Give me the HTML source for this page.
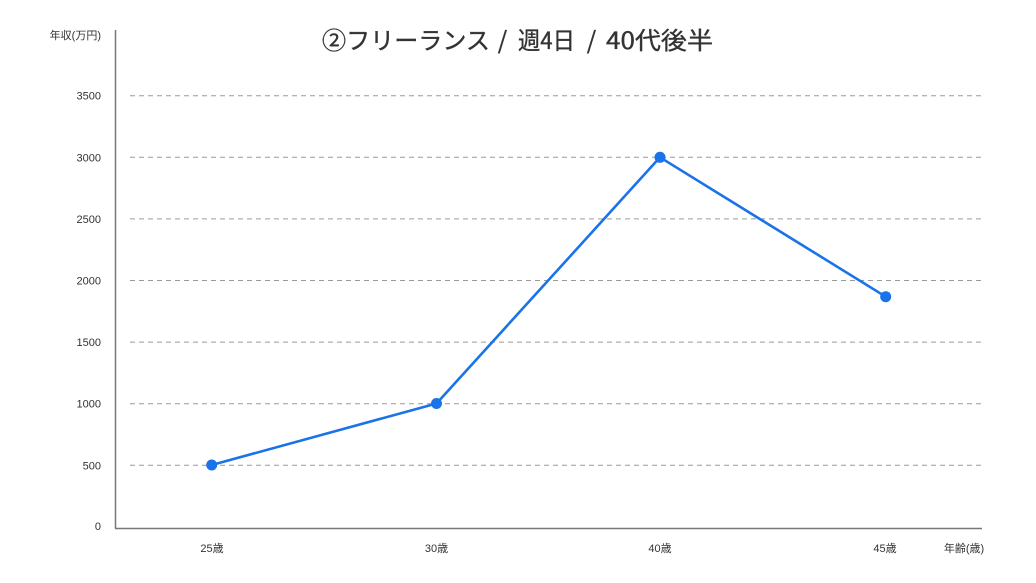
<!DOCTYPE html>
<html>
<head>
<meta charset="utf-8">
<style>
html,body{margin:0;padding:0;background:#fff;}
svg{display:block;}
text{font-family:"Liberation Sans","Noto Sans CJK JP",sans-serif;}
.title{font-family:"Noto Sans CJK JP","Liberation Sans",sans-serif;font-size:24px;font-weight:400;fill:#333;stroke:#333;stroke-width:0.35px;}
</style>
</head>
<body>
<svg width="1036" height="583" viewBox="0 0 1036 583" xmlns="http://www.w3.org/2000/svg">
<rect width="1036" height="583" fill="#fff"/>
<!-- title -->
<text class="title" x="322" y="49" textLength="168" lengthAdjust="spacingAndGlyphs">②フリーランス</text>
<text class="title" x="502.5" y="49" text-anchor="middle">/</text>
<text class="title" x="518" y="49" textLength="57" lengthAdjust="spacingAndGlyphs">週4日</text>
<text class="title" x="591.5" y="49" text-anchor="middle">/</text>
<text class="title" x="606" y="49" textLength="107" lengthAdjust="spacingAndGlyphs">40代後半</text>
<!-- gridlines -->
<g stroke="#9a9a9a" stroke-width="1" stroke-dasharray="5,4">
<line x1="130" y1="95.7" x2="982" y2="95.7"/>
<line x1="130" y1="157.3" x2="982" y2="157.3"/>
<line x1="130" y1="218.9" x2="982" y2="218.9"/>
<line x1="130" y1="280.5" x2="982" y2="280.5"/>
<line x1="130" y1="342.1" x2="982" y2="342.1"/>
<line x1="130" y1="403.7" x2="982" y2="403.7"/>
<line x1="130" y1="465.3" x2="982" y2="465.3"/>
</g>
<!-- axes -->
<line x1="115.5" y1="30" x2="115.5" y2="528.5" stroke="#777" stroke-width="1.5"/>
<line x1="115" y1="528.5" x2="982" y2="528.5" stroke="#777" stroke-width="1.5"/>
<!-- y labels -->
<g font-size="11" fill="#333" text-anchor="end">
<text x="101" y="39">年収(万円)</text>
<text x="101" y="99.7">3500</text>
<text x="101" y="161.3">3000</text>
<text x="101" y="222.9">2500</text>
<text x="101" y="284.5">2000</text>
<text x="101" y="346.1">1500</text>
<text x="101" y="407.7">1000</text>
<text x="101" y="469.3">500</text>
<text x="101" y="530">0</text>
</g>
<!-- x labels -->
<g font-size="11" fill="#333" text-anchor="middle">
<text x="212" y="552">25歳</text>
<text x="436.5" y="552">30歳</text>
<text x="660" y="552">40歳</text>
<text x="885" y="552">45歳</text>
<text x="964" y="552">年齢(歳)</text>
</g>
<!-- series -->
<polyline points="211.7,465 436.5,403.5 660,157.3 885.7,296.7" fill="none" stroke="#1a73e8" stroke-width="2.6" stroke-linejoin="round"/>
<g fill="#1a73e8">
<circle cx="211.7" cy="465" r="5.5"/>
<circle cx="436.5" cy="403.5" r="5.5"/>
<circle cx="660" cy="157.3" r="5.5"/>
<circle cx="885.7" cy="296.7" r="5.5"/>
</g>
</svg>
</body>
</html>
